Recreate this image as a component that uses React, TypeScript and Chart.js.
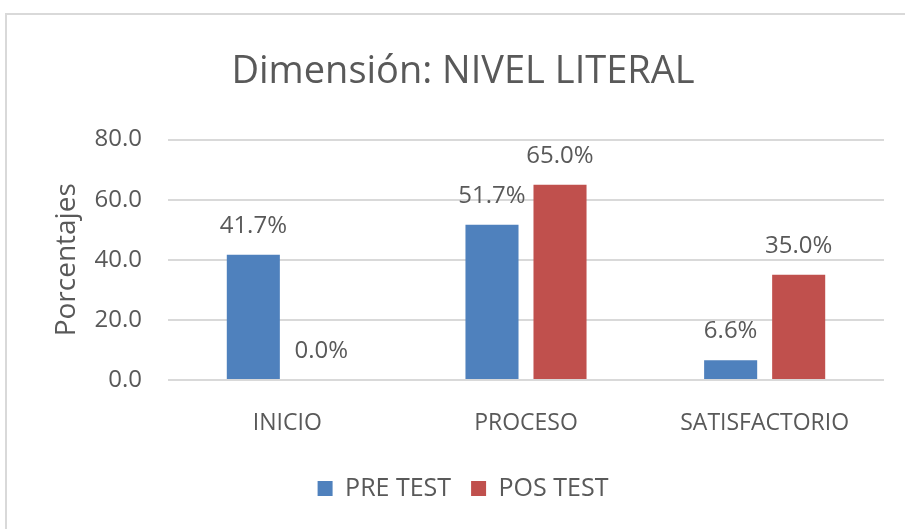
import React, { useEffect, useRef } from "react";
import { Chart, registerables } from "chart.js";

Chart.register(...registerables);

const categories = ["INICIO", "PROCESO", "SATISFACTORIO"];
const preTest = [41.7, 51.7, 6.6];
const posTest = [0.0, 65.0, 35.0];
const seriesNames = ["PRE TEST", "POS TEST"];
const yTicks = [0, 20, 40, 60, 80];

const FONT = "'Open Sans', 'Liberation Sans', sans-serif";
const TEXT = "#595959";
const GRID = "#D9D9D9";

const borderPlugin = {
  id: "outerBorder",
  beforeDraw(chart: any) {
    const ctx = chart.ctx;
    ctx.save();
    ctx.fillStyle = "#ffffff";
    ctx.fillRect(0, 0, chart.width, chart.height);
    ctx.strokeStyle = GRID;
    ctx.lineWidth = 2;
    ctx.beginPath();
    ctx.moveTo(6, chart.height);
    ctx.lineTo(6, 14);
    ctx.lineTo(chart.width, 14);
    ctx.stroke();
    ctx.restore();
  },
};

const labelPlugin = {
  id: "barLabels",
  afterDatasetsDraw(chart: any) {
    const ctx = chart.ctx;
    ctx.save();
    ctx.font = `24px ${FONT}`;
    ctx.fillStyle = TEXT;
    ctx.textAlign = "center";
    ctx.textBaseline = "alphabetic";
    chart.data.datasets.forEach((ds: any, di: number) => {
      const meta = chart.getDatasetMeta(di);
      meta.data.forEach((bar: any, i: number) => {
        const v = ds.data[i] as number;
        ctx.fillText(v.toFixed(1) + "%", bar.x, bar.y - 22);
      });
    });
    ctx.restore();
  },
};

export default function App() {
  const ref = useRef<HTMLCanvasElement>(null);
  useEffect(() => {
    if (!ref.current) return;
    const chart = new Chart(ref.current, {
      type: "bar",
      data: {
        labels: categories,
        datasets: [
          {
            label: seriesNames[0],
            data: preTest,
            backgroundColor: "#4F81BD",
            categoryPercentage: 0.57,
            barPercentage: 0.78,
          },
          {
            label: seriesNames[1],
            data: posTest,
            backgroundColor: "#C0504D",
            categoryPercentage: 0.57,
            barPercentage: 0.78,
          },
        ],
      },
      options: {
        animation: false,
        responsive: false,
        maintainAspectRatio: false,
        layout: { padding: { left: 42, right: 21, top: 14, bottom: 18 } },
        plugins: {
          title: {
            display: true,
            text: "Dimensión: NIVEL LITERAL",
            color: TEXT,
            font: { family: FONT, size: 38, weight: "normal" },
            padding: { top: 35, bottom: 45 },
          },
          legend: {
            display: true,
            position: "bottom",
            labels: {
              color: TEXT,
              font: { family: FONT, size: 25 },
              boxWidth: 15,
              boxHeight: 15,
              padding: 20,
            },
          },
          tooltip: { enabled: false },
        },
        scales: {
          x: {
            grid: { display: false, drawTicks: false },
            border: { display: false },
            ticks: { color: TEXT, font: { family: FONT, size: 23 }, padding: 30 },
            afterFit(scale: any) {
              scale.height = 76;
            },
          },
          y: {
            min: yTicks[0],
            max: yTicks[yTicks.length - 1],
            afterBuildTicks(scale: any) {
              scale.ticks = yTicks.map((v) => ({ value: v }));
            },
            grid: { color: GRID, lineWidth: 2, drawTicks: false },
            border: { display: false },
            ticks: {
              color: TEXT,
              font: { family: FONT, size: 24 },
              padding: 26,
              callback: (v: any) => Number(v).toFixed(1),
            },
            title: {
              display: true,
              text: "Porcentajes",
              color: TEXT,
              font: { family: FONT, size: 28 },
              padding: { top: 8, bottom: 0 },
            },
            afterFit(scale: any) {
              scale.width = 126;
            },
          },
        },
      },
      plugins: [borderPlugin, labelPlugin],
    });
    return () => chart.destroy();
  }, []);
  return (
    <div style={{ position: "absolute", left: 0, top: 0, width: 905, height: 529 }}>
      <canvas ref={ref} width={905} height={529} style={{ display: "block" }} />
    </div>
  );
}
